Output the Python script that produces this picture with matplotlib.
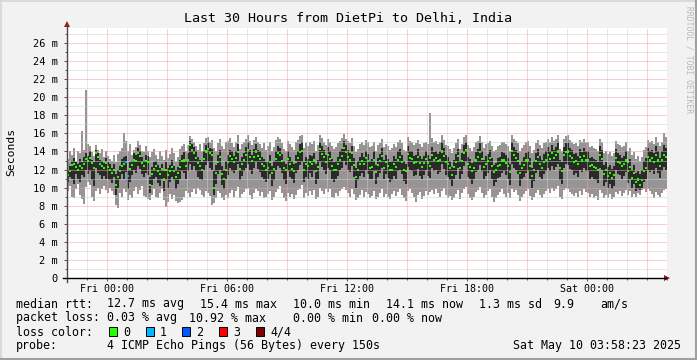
import matplotlib.pyplot as plt
import numpy as np
from matplotlib.patches import Polygon, Rectangle
from matplotlib.lines import Line2D

title = "Last 30 Hours from DietPi to Delhi, India"
ylabel = "Seconds"
xtick_pos = [2, 8, 14, 20, 26]
xtick_labels = ["Fri 00:00", "Fri 06:00", "Fri 12:00", "Fri 18:00", "Sat 00:00"]
ytick_pos = list(range(0, 27, 2))
ytick_labels = ["0"] + [f"{v} m" for v in range(2, 27, 2)]

# one column = 6 minutes, values in ms, starting Thu 22:00
# median rtt
med = [11.4, 11.8, 12.5, 12.6, 12.3, 11.9, 12.4, 12.2, 12.6, 13.2, 12.9, 13.3, 12.7, 12.2, 13.8, 13.4, 12.6, 12.4, 12.2, 12.7,
       12.3, 11.9, 11.6, 12.0, 10.3, 11.2, 11.8, 12.4, 12.6, 12.8, 11.3, 12.1, 12.5, 13.1, 12.9, 13.8, 13.5, 12.7, 12.4, 12.9,
       12.8, 10.3, 11.5, 12.1, 12.4, 11.8, 11.5, 12.1, 10.9, 12.0, 11.4, 11.8, 12.3, 11.8, 11.2, 11.6, 12.3, 12.9, 13.0, 12.4,
       13.1, 14.7, 14.2, 13.8, 13.3, 12.7, 12.4, 12.0, 13.2, 14.0, 14.3, 13.8, 13.6, 10.0, 11.6, 12.8, 13.4, 11.5, 11.0, 12.0,
       12.8, 13.5, 13.2, 12.8, 13.3, 13.9, 12.1, 12.6, 13.1, 13.6, 14.2, 13.4, 12.9, 13.4, 14.0, 13.5, 13.2, 12.6, 12.4, 11.9,
       12.2, 12.8, 11.6, 12.1, 13.2, 13.8, 13.6, 12.9, 12.2, 11.9, 13.2, 12.6, 12.1, 11.8, 12.8, 13.3, 13.9, 14.1, 11.9, 12.6,
       12.4, 12.8, 12.6, 13.0, 11.8, 12.3, 14.3, 13.7, 13.4, 12.8, 13.6, 13.2, 12.4, 12.0, 12.0, 12.6, 13.1, 13.5, 14.4, 13.9,
       13.4, 13.0, 13.8, 12.5, 11.2, 12.0, 12.6, 12.9, 12.6, 13.3, 12.9, 12.2, 12.3, 13.1, 11.7, 12.5, 12.9, 13.5, 12.2, 12.8,
       12.4, 11.9, 12.0, 12.6, 12.3, 13.1, 13.4, 12.8, 12.0, 11.8, 13.7, 13.3, 13.2, 12.7, 12.8, 13.4, 12.7, 12.3, 12.7, 13.2,
       12.7, 12.4, 13.6, 13.1, 13.3, 12.9, 13.1, 14.0, 13.5, 12.8, 12.6, 12.2, 11.4, 12.3, 12.8, 13.5, 12.2, 12.9, 13.8, 14.2,
       12.6, 12.3, 11.8, 12.2, 13.0, 13.4, 13.9, 13.2, 12.3, 12.6, 12.9, 13.3, 12.4, 11.7, 11.9, 12.4, 12.5, 13.0, 13.0, 12.7,
       12.4, 11.7, 14.1, 13.6, 13.3, 12.9, 11.6, 12.2, 12.5, 13.0, 13.1, 12.4, 11.3, 12.0, 12.9, 13.4, 12.6, 12.2, 12.8, 13.1,
       13.6, 13.2, 13.8, 13.3, 13.6, 14.0, 12.2, 11.8, 13.6, 13.9, 14.0, 13.5, 13.3, 12.8, 12.9, 12.6, 13.4, 13.0, 13.5, 13.1,
       13.1, 12.4, 12.5, 12.3, 12.2, 11.9, 13.6, 13.2, 11.5, 11.9, 11.3, 11.6, 11.1, 11.4, 13.3, 12.8, 12.7, 12.4, 12.6, 13.0,
       11.8, 12.3, 11.1, 11.6, 10.6, 10.9, 10.3, 10.8, 11.8, 12.2, 13.4, 13.0, 13.3, 12.8, 13.6, 13.0, 12.4, 13.1, 13.6, 13.4]
# fastest ping (light smoke bottom)
lo = [9.6, 10.2, 9.0, 8.8, 9.9, 10.4, 9.2, 8.7, 8.2, 10.1, 10.6, 10.3, 9.0, 8.5, 9.6, 10.0, 9.3, 9.8, 10.2, 9.7,
      9.4, 10.0, 9.6, 9.2, 8.1, 7.7, 9.4, 9.0, 9.8, 9.5, 8.6, 9.2, 8.8, 9.6, 10.1, 9.3, 9.7, 10.2, 9.1, 9.0,
      8.7, 8.6, 9.2, 9.8, 9.0, 8.9, 9.4, 9.8, 8.6, 7.9, 8.4, 9.3, 8.7, 9.2, 8.5, 8.3, 8.4, 8.6, 9.0, 9.6,
      9.4, 9.0, 9.5, 9.8, 9.3, 10.0, 9.7, 9.2, 9.0, 9.6, 9.4, 9.1, 8.1, 8.3, 8.8, 9.6, 9.4, 8.9, 8.6, 9.2,
      8.8, 9.4, 9.7, 9.0, 9.6, 10.1, 8.9, 9.3, 9.5, 9.8, 10.0, 9.2, 8.7, 9.4, 9.9, 9.6, 9.1, 9.5, 8.8, 9.0,
      9.3, 9.6, 8.6, 9.0, 9.5, 9.8, 10.2, 9.4, 8.9, 8.5, 9.4, 9.0, 9.3, 8.7, 9.2, 9.7, 9.9, 10.3, 8.8, 9.4,
      9.1, 9.6, 9.2, 9.7, 8.7, 9.0, 10.0, 9.6, 9.3, 9.8, 9.5, 9.9, 9.0, 8.8, 9.4, 9.1, 9.6, 9.8, 10.1, 9.7,
      9.4, 9.0, 9.8, 9.3, 8.6, 8.9, 9.2, 9.7, 9.0, 9.5, 9.3, 8.8, 9.1, 9.6, 8.7, 9.0, 9.4, 9.9, 9.0, 9.3,
      9.0, 8.7, 9.3, 9.6, 9.1, 9.5, 9.8, 9.2, 8.9, 8.5, 9.6, 9.9, 9.4, 9.0, 8.4, 9.2, 9.5, 8.7, 9.1, 9.6,
      9.2, 9.5, 9.7, 9.3, 9.8, 9.4, 9.0, 9.6, 10.0, 9.2, 8.8, 9.1, 8.6, 8.9, 9.3, 9.7, 8.7, 9.4, 9.8, 10.1,
      9.3, 8.9, 8.6, 9.0, 9.5, 9.7, 10.1, 9.4, 8.8, 9.2, 9.6, 9.9, 9.0, 8.4, 8.8, 9.2, 9.5, 9.8, 9.3, 9.0,
      9.4, 8.8, 9.9, 9.5, 9.7, 9.2, 8.5, 9.0, 9.3, 9.6, 9.8, 9.1, 8.6, 9.0, 9.4, 9.7, 9.2, 8.9, 9.3, 9.6,
      9.8, 9.4, 10.0, 9.6, 9.9, 10.2, 9.0, 8.7, 9.7, 10.0, 9.8, 9.5, 9.3, 9.1, 9.4, 9.0, 9.6, 9.2, 9.8, 9.5,
      9.4, 9.0, 9.3, 8.8, 9.1, 8.6, 9.7, 9.4, 8.8, 9.2, 8.9, 9.3, 8.7, 9.0, 9.5, 9.3, 9.6, 9.1, 9.4, 9.7,
      9.2, 9.6, 9.0, 9.3, 9.0, 9.4, 9.2, 9.7, 9.8, 9.5, 9.9, 9.6, 9.3, 8.9, 9.5, 9.2, 9.0, 9.4, 9.7, 9.9]
# second ping (dark smoke bottom)
lo2 = [10.6, 11.2, 11.0, 10.4, 11.5, 11.0, 10.6, 11.4, 11.2, 12.0, 11.5, 11.8, 10.8, 10.2, 12.2, 11.6, 11.4, 10.9, 11.3, 11.0,
       11.0, 10.8, 10.5, 11.2, 9.2, 10.0, 10.9, 11.5, 11.0, 11.7, 9.8, 10.6, 11.4, 11.9, 11.6, 12.4, 12.1, 11.5, 11.2, 11.6,
       11.4, 9.4, 10.3, 11.0, 11.2, 10.5, 10.2, 11.0, 9.6, 10.8, 10.0, 10.6, 11.2, 10.8, 9.8, 10.4, 11.0, 11.8, 11.6, 11.0,
       11.8, 12.6, 12.0, 12.4, 11.8, 11.2, 11.0, 10.8, 11.9, 12.5, 12.8, 12.2, 12.0, 9.2, 10.4, 11.5, 12.0, 10.3, 9.8, 10.9,
       11.4, 12.2, 11.8, 11.6, 12.0, 12.6, 10.8, 11.3, 11.8, 12.2, 12.6, 12.0, 11.5, 12.2, 12.8, 12.1, 11.7, 11.2, 11.0, 10.6,
       10.9, 11.5, 10.2, 10.8, 11.9, 12.4, 12.2, 11.6, 10.8, 10.4, 11.8, 11.2, 10.9, 10.5, 11.6, 12.0, 12.5, 12.8, 10.6, 11.2,
       11.0, 11.6, 11.2, 11.8, 10.4, 11.0, 12.8, 12.3, 12.0, 11.5, 12.2, 11.9, 11.0, 10.6, 10.9, 11.3, 11.9, 12.2, 12.9, 12.5,
       12.0, 11.7, 12.4, 11.2, 10.0, 10.8, 11.3, 11.6, 11.2, 12.0, 11.5, 10.9, 11.0, 11.8, 10.4, 11.2, 11.6, 12.2, 10.9, 11.5,
       11.1, 10.6, 10.8, 11.3, 11.0, 11.8, 12.0, 11.5, 10.7, 10.4, 12.3, 12.0, 11.8, 11.3, 11.4, 12.1, 11.3, 11.0, 11.4, 11.9,
       11.3, 11.1, 12.2, 11.8, 12.0, 11.5, 11.7, 12.6, 12.1, 11.4, 11.2, 10.8, 10.2, 11.0, 11.4, 12.2, 10.9, 11.5, 12.4, 12.8,
       11.2, 10.9, 10.4, 10.9, 11.7, 12.0, 12.5, 11.8, 10.9, 11.3, 11.6, 12.0, 11.0, 10.2, 10.6, 11.1, 11.2, 11.6, 11.8, 11.4,
       11.0, 10.3, 12.6, 12.2, 12.0, 11.5, 10.2, 10.9, 11.2, 11.6, 11.8, 11.0, 10.0, 10.7, 11.6, 12.0, 11.2, 10.9, 11.5, 11.8,
       12.2, 11.8, 12.4, 12.0, 12.3, 12.6, 10.8, 10.4, 12.2, 12.6, 12.5, 12.1, 12.0, 11.4, 11.6, 11.2, 12.0, 11.7, 12.2, 11.8,
       11.8, 11.0, 11.2, 10.9, 10.8, 10.5, 12.2, 11.9, 10.2, 10.6, 10.0, 10.4, 9.9, 10.2, 12.0, 11.5, 11.4, 11.0, 11.3, 11.7,
       10.5, 11.0, 10.0, 10.4, 9.6, 9.9, 9.7, 10.0, 10.6, 11.0, 12.0, 11.7, 12.0, 11.5, 12.2, 11.6, 11.1, 11.8, 12.3, 12.0]
# third ping (dark smoke top)
hi2 = [12.0, 12.4, 13.0, 13.3, 12.8, 12.6, 13.2, 12.8, 13.4, 13.8, 13.5, 14.0, 13.1, 12.8, 14.2, 13.8, 13.1, 13.0, 12.7, 13.3,
       12.8, 12.6, 12.2, 12.6, 11.5, 12.0, 12.4, 13.2, 13.4, 13.5, 12.0, 12.8, 13.0, 13.8, 13.6, 14.4, 14.0, 13.4, 13.0, 13.6,
       13.5, 11.2, 12.3, 12.8, 13.0, 12.5, 12.2, 12.6, 11.8, 12.8, 12.2, 12.5, 13.1, 12.4, 12.0, 12.3, 13.1, 13.6, 13.9, 13.0,
       13.8, 15.2, 14.8, 14.5, 14.0, 13.4, 13.1, 12.8, 14.0, 14.7, 15.0, 14.4, 14.3, 11.8, 12.5, 13.6, 14.2, 12.4, 12.0, 12.9,
       13.6, 14.2, 14.0, 13.5, 14.1, 14.8, 12.9, 13.4, 13.8, 14.5, 15.0, 14.2, 13.6, 14.3, 14.8, 14.2, 14.0, 13.4, 13.2, 12.8,
       13.0, 13.6, 12.4, 12.9, 14.0, 14.6, 14.4, 13.7, 13.0, 12.6, 14.0, 13.4, 12.9, 12.6, 13.6, 14.1, 14.8, 15.0, 12.8, 13.4,
       13.2, 13.6, 13.5, 13.8, 12.6, 13.1, 15.0, 14.6, 14.2, 13.6, 14.5, 14.0, 13.2, 12.8, 12.9, 13.4, 14.0, 14.3, 15.2, 14.7,
       14.2, 13.8, 14.6, 13.3, 12.2, 12.9, 13.4, 13.8, 13.4, 14.1, 13.7, 13.0, 13.2, 14.0, 12.5, 13.3, 13.7, 14.4, 13.1, 13.6,
       13.2, 12.8, 12.9, 13.5, 13.2, 14.0, 14.3, 13.6, 12.9, 12.6, 14.6, 14.1, 14.0, 13.5, 13.6, 14.3, 13.5, 13.2, 13.5, 14.0,
       13.6, 13.2, 14.5, 13.9, 14.1, 13.7, 14.0, 15.0, 14.4, 13.6, 13.4, 13.0, 12.3, 13.1, 13.7, 14.3, 13.0, 13.8, 14.7, 15.1,
       13.4, 13.2, 12.7, 13.0, 13.9, 14.3, 14.9, 14.0, 13.1, 13.5, 13.7, 14.2, 13.3, 12.5, 12.7, 13.3, 13.4, 13.9, 13.8, 13.6,
       13.3, 12.6, 15.0, 14.5, 14.2, 13.8, 12.5, 13.0, 13.4, 13.8, 14.0, 13.3, 12.2, 12.9, 13.8, 14.3, 13.5, 13.1, 13.7, 14.0,
       14.5, 14.1, 14.7, 14.2, 14.5, 15.0, 13.1, 12.8, 14.5, 14.9, 15.0, 14.4, 14.2, 13.7, 13.8, 13.5, 14.3, 13.9, 14.4, 14.0,
       14.0, 13.3, 13.4, 13.2, 13.1, 12.8, 14.6, 14.2, 12.5, 12.8, 12.3, 12.5, 12.1, 12.4, 14.3, 13.8, 13.6, 13.3, 13.5, 14.0,
       12.7, 13.2, 12.0, 12.5, 11.6, 11.8, 11.5, 12.0, 12.9, 13.3, 14.4, 14.0, 14.2, 13.8, 14.6, 14.0, 13.3, 14.0, 14.7, 14.4]
# slowest ping (light smoke top)
hi = [13.2, 14.0, 13.6, 14.4, 13.0, 14.1, 13.8, 16.3, 14.2, 20.8, 14.8, 14.6, 13.9, 13.5, 14.7, 14.2, 13.8, 14.3, 13.4, 14.0,
      13.5, 13.2, 12.9, 13.6, 12.8, 13.7, 14.0, 14.4, 16.0, 15.2, 14.1, 14.8, 13.6, 14.2, 14.5, 15.2, 14.7, 14.0, 13.9, 14.6,
      14.1, 13.4, 13.9, 14.3, 13.6, 13.2, 14.0, 13.5, 13.1, 14.2, 13.3, 13.7, 14.4, 13.8, 13.0, 13.4, 14.3, 14.6, 14.8, 14.1,
      14.7, 15.7, 15.4, 15.0, 14.6, 14.2, 14.8, 14.0, 14.9, 15.5, 15.6, 15.0, 15.3, 14.4, 14.1, 14.9, 15.4, 14.6, 14.3, 15.0,
      15.2, 15.5, 14.9, 14.5, 15.1, 15.8, 14.3, 14.8, 15.0, 15.4, 15.8, 15.2, 14.7, 15.3, 15.6, 15.1, 14.8, 14.4, 14.9, 14.2,
      14.6, 15.1, 14.0, 14.5, 15.3, 15.6, 15.4, 14.9, 14.3, 14.1, 15.2, 14.8, 14.5, 14.2, 15.0, 15.3, 15.7, 15.8, 14.4, 14.9,
      14.6, 15.0, 14.8, 15.2, 14.1, 14.7, 15.8, 15.5, 15.1, 14.7, 15.4, 15.0, 14.6, 14.3, 14.5, 14.9, 15.2, 15.5, 15.9, 15.4,
      15.2, 14.9, 15.5, 14.6, 13.9, 14.3, 14.8, 15.0, 14.7, 15.3, 15.0, 14.5, 14.6, 15.1, 14.0, 14.7, 14.9, 15.4, 14.5, 14.8,
      14.6, 14.2, 14.4, 14.8, 14.5, 15.0, 15.3, 14.9, 14.2, 14.1, 15.6, 15.2, 15.0, 14.7, 14.9, 15.3, 14.8, 14.5, 14.9, 15.1,
      14.8, 18.3, 15.5, 15.0, 15.2, 14.8, 15.0, 15.8, 15.3, 14.7, 14.6, 14.3, 13.8, 14.4, 14.9, 15.4, 14.3, 14.8, 15.6, 15.8,
      14.7, 14.4, 14.1, 14.5, 15.0, 15.2, 15.7, 15.0, 14.4, 14.8, 14.9, 15.2, 14.6, 14.0, 14.2, 14.6, 14.7, 15.1, 15.0, 14.8,
      14.6, 14.0, 15.8, 15.4, 15.2, 14.9, 14.0, 14.4, 14.7, 15.0, 15.2, 14.6, 13.8, 14.2, 14.9, 15.3, 14.7, 14.4, 14.9, 15.1,
      15.4, 15.0, 15.6, 15.2, 15.4, 15.8, 14.3, 14.1, 15.4, 15.7, 15.8, 15.3, 15.1, 14.8, 14.9, 14.6, 15.3, 15.0, 15.4, 15.0,
      15.0, 14.5, 14.6, 14.4, 14.3, 14.0, 15.4, 15.1, 13.8, 14.1, 13.7, 13.9, 13.5, 13.8, 15.2, 14.8, 14.7, 14.5, 14.6, 15.0,
      14.0, 14.4, 13.6, 13.9, 13.2, 13.5, 13.0, 13.4, 14.2, 14.5, 15.3, 15.0, 15.2, 14.8, 15.6, 15.1, 14.6, 15.1, 16.0, 15.6]
lost_pings = {29: 1, 30: 1}  # column -> pings lost, others 0

loss_names = ["0", "1", "2", "3", "4/4"]
loss_colors = ["#26ff00", "#00b8ff", "#0059ff", "#ff0000", "#7e0000"]

legend_rows = [
    (304, [(16, "median rtt:"), (107, "12.7 ms avg"), (200, "15.4 ms max"), (293, "10.0 ms min"),
           (386, "14.1 ms now"), (479, "1.3 ms sd"), (553, "9.9"), (600, "am/s")]),
    (318, [(16, "packet loss:"), (107, "0.03 % avg"), (189, "10.92 % max"), (293, "0.00 % min"),
           (372, "0.00 % now")]),
    (346, [(16, "probe:"), (107, "4 ICMP Echo Pings (56 Bytes) every 150s"),
           (513, "Sat May 10 03:58:23 2025")]),
]

W, H = 697, 360
MONO = "DejaVu Sans Mono"


def fx(x):
    return x / W


def fy(y):
    return 1 - y / H


fig = plt.figure(figsize=(W / 100, H / 100), dpi=100, facecolor="#f2f2f2")
ax = fig.add_axes([fx(67), fy(278), 600 / W, 250 / H])
ax.set_facecolor("white")

lo, lo2, hi2, hi, med = map(np.array, (lo, lo2, hi2, hi, med))
step = 30 / len(med)
t = np.arange(len(med)) * step
mcol = [loss_colors[lost_pings.get(i, 0)] for i in range(len(med))]

ax.bar(t, hi - lo, bottom=lo, width=step, align="edge", color="#959595", lw=0, zorder=1)
ax.bar(t, hi2 - lo2, bottom=lo2, width=step, align="edge", color="#2a2a2a", lw=0, zorder=2)

# grid on top of the smoke, like rrdtool
for h in range(1, 30):
    c = "#f0a0a0" if (h - 2) % 3 == 0 else "#d0d0d0"
    ax.axvline(h, color=c, lw=0.72, dashes=(1, 1), zorder=3)
for v in range(1, 28):
    c = "#f0a0a0" if v % 2 == 0 else "#d0d0d0"
    ax.axhline(v, color=c, lw=0.72, dashes=(1, 1), zorder=3)

ax.bar(t, 0.23, bottom=med - 0.115, width=step, align="edge", color=mcol, lw=0, zorder=4)

ax.set_xlim(0, 30)
ax.set_ylim(0, 250 / 9.038)
for s in ax.spines.values():
    s.set_visible(False)

ax.set_xticks(xtick_pos)
ax.set_xticklabels(xtick_labels, family=MONO, fontsize=7.2)
ax.set_xticks(range(0, 31), minor=True)
ax.set_yticks(ytick_pos)
ax.set_yticklabels(ytick_labels, family=MONO, fontsize=7.5)
ax.set_yticks(range(0, 28), minor=True)
ax.tick_params(axis="both", which="both", direction="out", color="#555555", width=0.7)
ax.tick_params(axis="both", which="major", length=2.2)
ax.tick_params(axis="x", which="major", pad=2.2)
ax.tick_params(axis="y", which="major", pad=4.4)
ax.tick_params(axis="both", which="minor", length=1.4)

# axis lines and arrows
fig.add_artist(Line2D([fx(67), fx(67)], [fy(282), fy(25)], color="#4a4a4a", lw=1.0))
fig.add_artist(Line2D([fx(63), fx(666)], [fy(278), fy(278)], color="#000000", lw=1.0))
fig.add_artist(Polygon([(fx(64), fy(27)), (fx(70), fy(27)), (fx(67), fy(21))],
                       closed=True, color="#9a1a1a", lw=0))
fig.add_artist(Polygon([(fx(664), fy(275)), (fx(664), fy(281)), (fx(670), fy(278))],
                       closed=True, color="#9a1a1a", lw=0))

fig.text(fx(348), fy(19), title, family=MONO, fontsize=9.6, ha="center", va="center")
fig.text(fx(11), fy(152), ylabel, family=MONO, fontsize=8.2, rotation=90,
         ha="center", va="center")
fig.text(fx(689), fy(60), "RRDTOOL / TOBI OETIKER", family=MONO, fontsize=5.8,
         rotation=-90, ha="center", va="center", color="#b8b8b8")

for y, items in legend_rows:
    for x, s in items:
        fig.text(fx(x), fy(y), s, family=MONO, fontsize=8.4, ha="left", va="center")

fig.text(fx(16), fy(332), "loss color:", family=MONO, fontsize=8.4, ha="left", va="center")
box_x = [109, 146, 182, 219, 256]
for bx, name, c in zip(box_x, loss_names, loss_colors):
    fig.add_artist(Rectangle((fx(bx), fy(336)), 8 / W, 9 / H, facecolor=c,
                             edgecolor="black", lw=0.7))
    fig.text(fx(bx + 14), fy(332), name, family=MONO, fontsize=8.4, ha="left", va="center")

# frame
fig.add_artist(Line2D([0, 1], [fy(0.5), fy(0.5)], color="#d6d6d6", lw=1.2))
fig.add_artist(Line2D([fx(0.5), fx(0.5)], [0, 1], color="#d6d6d6", lw=1.2))
fig.add_artist(Line2D([0, 1], [fy(359), fy(359)], color="#a0a0a0", lw=1.5))
fig.add_artist(Line2D([fx(696), fx(696)], [0, 1], color="#a0a0a0", lw=1.5))

fig.savefig("out.png", dpi=100, facecolor=fig.get_facecolor())
